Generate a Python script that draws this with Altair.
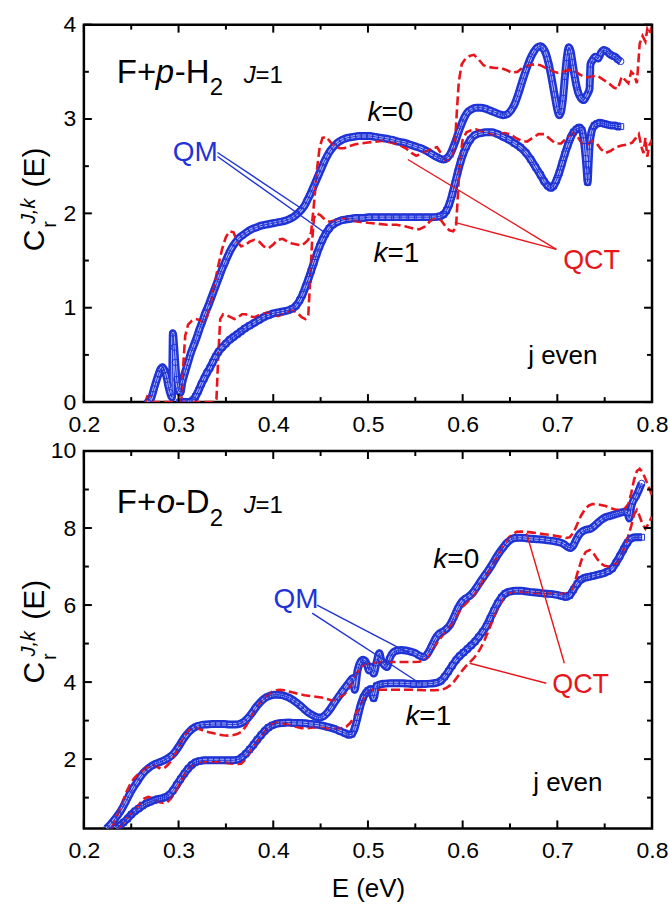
import altair as alt
import pandas as pd

FONT = "Liberation Sans"
BLUE = "#1f33d6"
LIGHT = "#a9b2f2"
RED = "#e8161c"

# ---------------- data (E in eV, C) ----------------
TOP_QM_K0 = [(0.267,0.00),(0.271,0.04),(0.274,0.14),(0.277,0.24),(0.279,0.30),(0.281,0.35),(0.283,0.37),(0.285,0.34),
 (0.287,0.28),(0.289,0.18),(0.291,0.10),(0.293,0.05),(0.294,0.73),(0.2954,0.58),(0.2965,0.42),(0.298,0.24),(0.300,0.12),
 (0.302,0.10),(0.304,0.21),(0.307,0.32),(0.310,0.42),(0.313,0.52),(0.316,0.60),(0.319,0.68),(0.322,0.77),(0.325,0.85),
 (0.328,0.94),(0.331,1.01),(0.334,1.09),(0.337,1.17),(0.340,1.25),(0.343,1.33),(0.346,1.41),(0.349,1.48),(0.352,1.55),
 (0.356,1.63),(0.360,1.69),(0.364,1.74),(0.368,1.77),(0.372,1.80),(0.377,1.83),(0.382,1.85),(0.387,1.87),(0.392,1.88),
 (0.397,1.89),(0.402,1.90),(0.407,1.91),(0.412,1.92),(0.417,1.94),(0.421,1.96),(0.425,1.99),(0.429,2.03),(0.433,2.08),
 (0.436,2.14),(0.439,2.20),(0.442,2.27),(0.445,2.34),(0.448,2.41),(0.451,2.48),(0.454,2.55),(0.457,2.61),(0.460,2.66),
 (0.464,2.71),(0.468,2.75),(0.473,2.78),(0.478,2.80),(0.484,2.81),(0.490,2.82),(0.496,2.82),(0.502,2.82),(0.508,2.81),
 (0.514,2.80),(0.520,2.79),(0.526,2.78),(0.532,2.76),(0.538,2.75),(0.544,2.73),(0.550,2.71),(0.556,2.69),(0.562,2.66),
 (0.567,2.63),(0.572,2.60),(0.576,2.58),(0.580,2.57),(0.584,2.59),(0.587,2.63),(0.590,2.70),(0.593,2.78),(0.596,2.87),
 (0.599,2.95),(0.602,3.02),(0.605,3.07),(0.609,3.10),(0.614,3.12),(0.619,3.12),(0.624,3.11),(0.629,3.09),(0.634,3.07),
 (0.639,3.05),(0.643,3.04),(0.647,3.05),(0.651,3.09),(0.655,3.16),(0.659,3.27),(0.663,3.40),(0.667,3.52),(0.671,3.63),
 (0.675,3.71),(0.679,3.76),(0.682,3.77),(0.685,3.75),(0.688,3.69),(0.691,3.58),(0.694,3.43),(0.697,3.26),(0.700,3.10),
 (0.702,3.04),(0.704,3.08),(0.706,3.22),(0.708,3.45),(0.710,3.65),(0.712,3.76),(0.714,3.72),(0.716,3.60),(0.718,3.47),
 (0.720,3.36),(0.722,3.28),(0.725,3.22),(0.728,3.20),(0.731,3.25),(0.734,3.32),(0.735,3.58),(0.737,3.62),(0.740,3.66),
 (0.743,3.64),(0.746,3.70),(0.749,3.73),(0.752,3.72),(0.755,3.69),(0.758,3.67),(0.761,3.66),(0.764,3.63),(0.767,3.61)]

TOP_QM_K1 = [(0.301,0.00),(0.306,0.00),(0.311,0.00),(0.315,0.02),(0.318,0.06),(0.321,0.12),(0.324,0.19),(0.327,0.25),
 (0.330,0.31),(0.333,0.36),(0.336,0.42),(0.339,0.48),(0.342,0.53),(0.346,0.58),(0.350,0.62),(0.354,0.66),(0.358,0.69),
 (0.362,0.72),(0.366,0.75),(0.370,0.78),(0.375,0.81),(0.380,0.84),(0.385,0.87),(0.390,0.90),(0.395,0.92),(0.400,0.94),
 (0.405,0.95),(0.410,0.96),(0.415,0.97),(0.420,0.99),(0.424,1.02),(0.428,1.08),(0.431,1.14),(0.434,1.22),(0.437,1.30),
 (0.440,1.39),(0.443,1.48),(0.446,1.57),(0.449,1.65),(0.452,1.72),(0.455,1.78),(0.459,1.84),(0.463,1.88),(0.468,1.91),
 (0.474,1.93),(0.480,1.94),(0.487,1.95),(0.494,1.95),(0.501,1.96),(0.508,1.96),(0.515,1.96),(0.522,1.96),(0.530,1.96),
 (0.538,1.96),(0.546,1.96),(0.554,1.96),(0.562,1.96),(0.570,1.96),(0.576,1.97),(0.580,1.99),(0.583,2.03),(0.586,2.10),
 (0.589,2.20),(0.592,2.32),(0.595,2.44),(0.598,2.55),(0.601,2.64),(0.604,2.71),(0.608,2.78),(0.613,2.83),(0.619,2.85),
 (0.625,2.86),(0.631,2.86),(0.637,2.84),(0.643,2.81),(0.649,2.78),(0.655,2.74),(0.661,2.70),(0.667,2.64),(0.672,2.57),
 (0.677,2.49),(0.682,2.41),(0.686,2.34),(0.690,2.29),(0.693,2.27),(0.696,2.29),(0.699,2.35),(0.702,2.43),(0.705,2.53),
 (0.708,2.63),(0.711,2.72),(0.714,2.80),(0.717,2.86),(0.720,2.89),(0.723,2.91),(0.726,2.88),(0.728,2.77),(0.730,2.58),
 (0.731,2.45),(0.732,2.33),(0.733,2.52),(0.734,2.71),(0.736,2.86),(0.739,2.93),(0.742,2.95),(0.745,2.96),(0.749,2.95),
 (0.753,2.94),(0.757,2.93),(0.761,2.93),(0.764,2.92),(0.767,2.92)]

TOP_QCT_K0 = [(0.265,0.00),(0.267,0.06),(0.270,0.05),(0.272,0.00),(0.300,0.00),(0.303,0.02),(0.305,0.40),(0.307,0.70),
 (0.310,0.82),(0.314,0.86),(0.318,0.88),(0.322,0.87),(0.326,0.85),(0.330,0.90),(0.334,1.05),(0.338,1.25),(0.342,1.45),
 (0.346,1.62),(0.350,1.75),(0.354,1.81),(0.358,1.80),(0.362,1.70),(0.366,1.65),(0.370,1.66),(0.375,1.70),(0.380,1.72),
 (0.385,1.70),(0.390,1.65),(0.395,1.63),(0.400,1.67),(0.405,1.72),(0.410,1.73),(0.415,1.70),(0.420,1.68),(0.425,1.67),
 (0.430,1.66),(0.434,1.69),(0.437,1.72),(0.440,1.80),(0.443,2.10),(0.446,2.45),(0.449,2.70),(0.452,2.80),(0.456,2.81),
 (0.460,2.76),(0.465,2.71),(0.470,2.69),(0.475,2.69),(0.480,2.71),(0.486,2.73),(0.492,2.74),(0.500,2.75),(0.508,2.76),
 (0.516,2.77),(0.524,2.75),(0.532,2.73),(0.540,2.69),(0.546,2.64),(0.551,2.61),(0.556,2.63),(0.562,2.66),(0.568,2.69),
 (0.573,2.70),(0.577,2.64),(0.581,2.57),(0.585,2.56),(0.589,2.60),(0.592,2.75),(0.594,3.10),(0.596,3.40),(0.599,3.58),
 (0.603,3.64),(0.608,3.67),(0.612,3.68),(0.617,3.63),(0.622,3.57),(0.628,3.55),(0.634,3.54),(0.640,3.54),(0.646,3.52),
 (0.652,3.49),(0.658,3.50),(0.664,3.55),(0.670,3.57),(0.676,3.58),(0.682,3.57),(0.688,3.54),(0.694,3.51),(0.700,3.49),
 (0.706,3.50),(0.712,3.52),(0.718,3.51),(0.724,3.47),(0.730,3.44),(0.736,3.45),(0.742,3.46),(0.748,3.42),(0.754,3.38),
 (0.760,3.33),(0.764,3.32),(0.768,3.45),(0.771,3.42),(0.775,3.38),(0.778,3.50),(0.781,3.47),(0.784,3.38),(0.787,3.80),
 (0.790,3.88),(0.793,3.82),(0.795,3.95),(0.797,3.90),(0.800,3.98)]

TOP_QCT_K1 = [(0.300,0.00),(0.320,0.00),(0.338,0.00),(0.340,0.03),(0.342,0.50),(0.344,0.88),(0.347,0.93),(0.351,0.92),
 (0.355,0.90),(0.359,0.88),(0.363,0.90),(0.367,0.93),(0.371,0.93),(0.375,0.91),(0.380,0.90),(0.385,0.92),(0.390,0.94),
 (0.395,0.95),(0.400,0.93),(0.405,0.91),(0.410,0.93),(0.415,0.96),(0.420,0.97),(0.425,0.95),(0.430,0.90),(0.434,0.88),
 (0.437,0.92),(0.439,1.30),(0.441,1.70),(0.443,1.95),(0.446,2.00),(0.450,1.98),(0.455,1.93),(0.460,1.91),(0.466,1.93),
 (0.472,1.95),(0.478,1.94),(0.485,1.92),(0.492,1.91),(0.500,1.90),(0.510,1.89),(0.520,1.88),(0.530,1.88),(0.540,1.86),
 (0.548,1.84),(0.554,1.83),(0.560,1.86),(0.566,1.92),(0.572,1.95),(0.577,1.93),(0.582,1.86),(0.586,1.82),(0.590,1.81),
 (0.593,1.85),(0.595,2.20),(0.597,2.55),(0.600,2.78),(0.604,2.86),(0.609,2.88),(0.614,2.89),(0.620,2.87),(0.626,2.85),
 (0.632,2.83),(0.638,2.84),(0.644,2.85),(0.650,2.84),(0.656,2.80),(0.662,2.77),(0.668,2.76),(0.674,2.80),(0.680,2.84),
 (0.686,2.84),(0.692,2.79),(0.698,2.74),(0.704,2.74),(0.710,2.80),(0.716,2.85),(0.721,2.82),(0.726,2.74),(0.731,2.72),
 (0.736,2.77),(0.741,2.75),(0.746,2.68),(0.751,2.64),(0.756,2.66),(0.762,2.70),(0.768,2.72),(0.774,2.73),(0.779,2.75),
 (0.783,2.80),(0.786,2.84),(0.789,2.70),(0.791,2.64),(0.793,2.80),(0.795,2.60),(0.797,2.72),(0.800,2.78)]

BOT_QM_K0 = [(0.224,0.20),(0.228,0.30),(0.232,0.42),(0.236,0.55),(0.240,0.70),(0.244,0.88),(0.248,1.08),(0.252,1.25),
 (0.256,1.40),(0.260,1.55),(0.264,1.67),(0.268,1.76),(0.272,1.83),(0.276,1.88),(0.280,1.92),(0.284,1.96),(0.288,2.01),
 (0.292,2.08),(0.296,2.18),(0.300,2.32),(0.304,2.48),(0.308,2.62),(0.312,2.73),(0.316,2.81),(0.320,2.86),(0.325,2.89),
 (0.330,2.90),(0.336,2.91),(0.342,2.91),(0.348,2.91),(0.354,2.90),(0.360,2.90),(0.365,2.92),(0.369,2.97),(0.373,3.06),
 (0.377,3.18),(0.381,3.32),(0.385,3.44),(0.389,3.54),(0.393,3.61),(0.397,3.65),(0.401,3.67),(0.405,3.67),(0.409,3.66),
 (0.413,3.63),(0.417,3.59),(0.421,3.53),(0.425,3.46),(0.429,3.38),(0.433,3.29),(0.437,3.21),(0.441,3.15),(0.445,3.10),
 (0.449,3.08),(0.453,3.11),(0.457,3.20),(0.461,3.33),(0.465,3.48),(0.469,3.62),(0.473,3.76),(0.477,3.89),(0.481,4.02),
 (0.484,4.10),(0.486,3.80),(0.489,4.30),(0.492,4.52),(0.495,4.58),(0.497,4.55),(0.499,4.45),(0.501,4.30),(0.503,4.40),
 (0.506,4.22),(0.509,4.50),(0.512,4.75),(0.514,4.57),(0.517,4.45),(0.520,4.39),(0.523,4.62),(0.527,4.78),(0.531,4.82),
 (0.535,4.83),(0.540,4.82),(0.545,4.79),(0.550,4.75),(0.555,4.68),(0.559,4.65),(0.563,4.74),(0.567,4.92),(0.571,5.12),
 (0.575,5.25),(0.579,5.31),(0.583,5.38),(0.587,5.50),(0.591,5.70),(0.595,5.92),(0.599,6.08),(0.603,6.17),(0.607,6.23),
 (0.611,6.33),(0.615,6.47),(0.619,6.62),(0.623,6.76),(0.627,6.90),(0.631,7.05),(0.635,7.22),(0.639,7.37),(0.643,7.50),
 (0.647,7.62),(0.651,7.70),(0.655,7.74),(0.660,7.75),(0.666,7.74),(0.672,7.72),(0.678,7.71),(0.684,7.70),(0.690,7.68),
 (0.696,7.66),(0.702,7.63),(0.707,7.58),(0.711,7.51),(0.714,7.48),(0.717,7.55),(0.720,7.70),(0.723,7.83),(0.727,7.92),
 (0.731,7.96),(0.735,7.98),(0.739,8.05),(0.743,8.14),(0.747,8.22),(0.751,8.28),(0.755,8.31),(0.759,8.34),(0.763,8.37),
 (0.767,8.40),(0.771,8.42),(0.774,8.40),(0.776,8.25),(0.778,8.55),(0.780,8.70),(0.783,8.82),(0.786,8.98),(0.789,9.16)]

BOT_QM_K1 = [(0.234,0.20),(0.238,0.28),(0.242,0.36),(0.246,0.45),(0.250,0.56),(0.254,0.65),(0.258,0.72),(0.262,0.79),
 (0.266,0.85),(0.270,0.89),(0.274,0.93),(0.278,0.96),(0.282,0.98),(0.286,1.01),(0.290,1.07),(0.294,1.18),(0.298,1.33),
 (0.302,1.48),(0.306,1.62),(0.310,1.75),(0.314,1.85),(0.318,1.92),(0.322,1.95),(0.328,1.97),(0.334,1.97),(0.340,1.97),
 (0.346,1.97),(0.352,1.97),(0.358,1.97),(0.363,1.99),(0.367,2.05),(0.371,2.14),(0.375,2.25),(0.379,2.37),(0.383,2.50),
 (0.387,2.62),(0.391,2.73),(0.395,2.82),(0.399,2.88),(0.404,2.92),(0.410,2.94),(0.416,2.95),(0.422,2.94),(0.428,2.94),
 (0.434,2.93),(0.440,2.91),(0.446,2.90),(0.452,2.87),(0.458,2.83),(0.464,2.79),(0.470,2.73),(0.476,2.67),(0.480,2.63),
 (0.483,2.65),(0.486,2.80),(0.489,3.08),(0.492,3.38),(0.495,3.60),(0.498,3.72),(0.500,3.78),(0.503,3.82),(0.506,3.58),
 (0.509,3.90),(0.513,3.94),(0.518,3.96),(0.524,3.97),(0.530,3.97),(0.536,3.97),(0.542,3.96),(0.548,3.95),(0.554,3.95),
 (0.560,3.95),(0.566,3.96),(0.572,3.98),(0.577,4.03),(0.581,4.14),(0.585,4.28),(0.589,4.43),(0.593,4.57),(0.597,4.68),
 (0.601,4.77),(0.605,4.86),(0.609,4.95),(0.613,5.05),(0.617,5.17),(0.621,5.30),(0.625,5.45),(0.629,5.65),(0.633,5.86),
 (0.637,6.05),(0.641,6.20),(0.645,6.30),(0.650,6.35),(0.656,6.37),(0.662,6.37),(0.668,6.35),(0.674,6.33),(0.680,6.32),
 (0.686,6.30),(0.692,6.29),(0.698,6.27),(0.704,6.24),(0.709,6.21),(0.713,6.25),(0.717,6.40),(0.721,6.55),(0.725,6.66),
 (0.729,6.71),(0.733,6.73),(0.738,6.76),(0.743,6.79),(0.748,6.82),(0.753,6.87),(0.758,6.95),(0.762,7.10),(0.766,7.27),
 (0.770,7.45),(0.774,7.62),(0.778,7.73),(0.782,7.76),(0.786,7.76),(0.789,7.76)]

BOT_QCT_K0 = [(0.229,0.20),(0.233,0.40),(0.237,0.65),(0.241,0.90),(0.245,1.15),(0.249,1.35),(0.253,1.50),(0.257,1.60),
 (0.261,1.68),(0.265,1.76),(0.269,1.82),(0.273,1.84),(0.277,1.80),(0.281,1.75),(0.285,1.77),(0.289,1.86),(0.293,1.98),
 (0.297,2.15),(0.301,2.35),(0.305,2.55),(0.309,2.70),(0.313,2.80),(0.317,2.82),(0.322,2.78),(0.327,2.73),(0.332,2.70),
 (0.337,2.67),(0.342,2.64),(0.347,2.62),(0.352,2.61),(0.357,2.62),(0.362,2.65),(0.367,2.72),(0.371,2.85),(0.375,3.02),
 (0.379,3.20),(0.383,3.36),(0.387,3.50),(0.391,3.60),(0.395,3.68),(0.399,3.75),(0.403,3.79),(0.407,3.80),(0.411,3.79),
 (0.416,3.76),(0.421,3.73),(0.427,3.69),(0.433,3.66),(0.439,3.64),(0.445,3.62),(0.451,3.60),(0.457,3.56),(0.462,3.52),
 (0.466,3.55),(0.470,3.60),(0.474,3.66),(0.478,3.76),(0.482,3.92),(0.486,4.12),(0.490,4.30),(0.494,4.42),(0.498,4.47),
 (0.502,4.48),(0.507,4.50),(0.514,4.52),(0.522,4.52),(0.530,4.52),(0.538,4.52),(0.546,4.52),(0.554,4.53),(0.560,4.58),
 (0.565,4.70),(0.569,4.86),(0.573,5.02),(0.577,5.15),(0.581,5.28),(0.585,5.40),(0.589,5.52),(0.593,5.68),(0.597,5.85),
 (0.601,5.98),(0.605,6.08),(0.609,6.17),(0.613,6.28),(0.617,6.44),(0.621,6.60),(0.625,6.76),(0.629,6.92),(0.633,7.10),
 (0.637,7.28),(0.641,7.45),(0.645,7.62),(0.649,7.76),(0.653,7.85),(0.657,7.90),(0.662,7.91),(0.668,7.90),(0.674,7.88),
 (0.680,7.86),(0.686,7.84),(0.692,7.82),(0.698,7.80),(0.704,7.77),(0.709,7.74),(0.713,7.76),(0.717,7.88),(0.721,8.10),
 (0.725,8.32),(0.729,8.48),(0.733,8.58),(0.737,8.62),(0.741,8.62),(0.746,8.60),(0.751,8.57),(0.756,8.52),(0.761,8.48),
 (0.766,8.47),(0.771,8.50),(0.775,8.62),(0.778,8.90),(0.781,9.25),(0.784,9.48),(0.787,9.54),(0.790,9.45),(0.793,9.28),
 (0.796,9.10),(0.800,8.85)]

BOT_QCT_K1 = [(0.236,0.20),(0.240,0.30),(0.244,0.42),(0.248,0.52),(0.252,0.62),(0.256,0.74),(0.260,0.88),(0.264,0.98),
 (0.268,1.02),(0.272,0.99),(0.276,0.92),(0.280,0.88),(0.284,0.86),(0.288,0.88),(0.292,0.98),(0.296,1.12),(0.300,1.30),
 (0.304,1.50),(0.308,1.68),(0.312,1.80),(0.316,1.87),(0.321,1.91),(0.327,1.92),(0.334,1.92),(0.341,1.92),(0.348,1.91),
 (0.355,1.89),(0.361,1.87),(0.366,1.88),(0.370,1.97),(0.374,2.12),(0.378,2.28),(0.382,2.42),(0.386,2.55),(0.390,2.68),
 (0.394,2.80),(0.398,2.90),(0.402,2.95),(0.407,2.95),(0.412,2.92),(0.418,2.88),(0.424,2.84),(0.430,2.80),(0.436,2.80),
 (0.442,2.82),(0.448,2.82),(0.454,2.80),(0.460,2.79),(0.466,2.79),(0.472,2.80),(0.477,2.84),(0.481,2.93),(0.485,3.07),
 (0.489,3.25),(0.493,3.45),(0.497,3.65),(0.501,3.76),(0.505,3.80),(0.512,3.80),(0.520,3.80),(0.530,3.80),(0.540,3.80),
 (0.550,3.80),(0.560,3.79),(0.570,3.79),(0.578,3.80),(0.583,3.85),(0.587,3.92),(0.591,4.02),(0.595,4.15),(0.599,4.28),
 (0.603,4.40),(0.607,4.50),(0.611,4.60),(0.615,4.72),(0.619,4.88),(0.623,5.08),(0.627,5.32),(0.631,5.56),(0.635,5.80),
 (0.639,6.00),(0.643,6.15),(0.647,6.26),(0.651,6.33),(0.656,6.35),(0.662,6.35),(0.668,6.34),(0.675,6.32),(0.682,6.31),
 (0.689,6.30),(0.696,6.30),(0.703,6.30),(0.709,6.30),(0.714,6.34),(0.718,6.55),(0.722,6.90),(0.726,7.20),(0.730,7.38),
 (0.734,7.43),(0.738,7.35),(0.742,7.20),(0.746,7.08),(0.750,7.02),(0.754,7.00),(0.758,7.02),(0.762,7.08),(0.766,7.22),
 (0.770,7.45),(0.774,7.72),(0.778,8.05),(0.781,8.35),(0.784,8.47),(0.787,8.30),(0.790,8.10),(0.793,7.98),(0.796,8.10),
 (0.800,8.30)]

# annotation pointer lines: (E1, C1, E2, C2)
TOP_QM_LINES = [(0.3411, 2.645, 0.4305, 2.046), (0.3411, 2.603, 0.4568, 1.778)]
TOP_QCT_LINES = [(0.699, 1.619, 0.5421, 2.571), (0.699, 1.619, 0.5916, 1.905)]
BOT_QM_LINES = [(0.4463, 6.00, 0.5474, 4.70), (0.4411, 5.79, 0.5547, 3.97)]
BOT_QCT_LINES = [(0.6884, 3.97, 0.6074, 4.49), (0.7074, 4.49, 0.6674, 7.87)]

# ticks / labels
X_LABELS = [0.2, 0.3, 0.4, 0.5, 0.6, 0.7, 0.8]
X_MINOR = [0.25, 0.35, 0.45, 0.55, 0.65, 0.75]
TOP_Y_MAJOR = [0, 1, 2, 3, 4]
TOP_Y_MINOR = [0.5, 1.5, 2.5, 3.5]
BOT_Y_MAJOR = [2, 4, 6, 8, 10]
BOT_Y_MINOR = [1, 3, 5, 7, 9]
X_DOMAIN = [0.2, 0.8]
TOP_Y_DOMAIN = [0, 4]
BOT_Y_DOMAIN = [0.2, 10]

W, H = 569, 378
ONE = pd.DataFrame({"a": [0]})


def pts(pairs):
    return pd.DataFrame(pairs, columns=["E", "C"])


def txt(s, x, y, size=28, color="black", italic=False, angle=0, align="left"):
    return alt.Chart(ONE).mark_text(
        text=s, font=FONT, fontSize=size, fontStyle="italic" if italic else "normal",
        color=color, align=align, baseline="alphabetic", angle=angle
    ).encode(x=alt.value(x), y=alt.value(y))


def panel(qm0, qm1, qct0, qct1, ydom, ymaj, ymin, qm_lines, qct_lines, texts, xtitle):
    xs = alt.Scale(domain=X_DOMAIN, nice=False, zero=False)
    ys = alt.Scale(domain=ydom, nice=False, zero=False)
    xaxis = alt.Axis(values=X_LABELS, format=".1f", ticks=False, domain=False, grid=False,
                     labelPadding=11, labelFlush=False, labelOverlap=False, titlePadding=13,
                     labelFont=FONT, labelFontSize=23, labelColor="black",
                     titleFont=FONT, titleFontSize=26, titleFontWeight="normal", titleColor="black")
    yaxis = alt.Axis(values=ymaj, format="d", ticks=False, domain=False, grid=False,
                     labelPadding=8, labelFlush=False, labelOverlap=False,
                     labelFont=FONT, labelFontSize=23, labelColor="black")
    X = alt.X("E:Q", scale=xs, axis=xaxis, title=xtitle)
    Y = alt.Y("C:Q", scale=ys, axis=yaxis, title=None)

    layers = []
    # QM bands
    for d in (qm0, qm1):
        base = alt.Chart(pts(d)).encode(x=X, y=Y)
        layers.append(base.mark_line(color=BLUE, strokeWidth=8, interpolate="monotone", clip=True))
        layers.append(base.mark_line(color=LIGHT, strokeWidth=3, interpolate="monotone", clip=True))
    # QCT dashed
    for d in (qct0, qct1):
        layers.append(alt.Chart(pts(d)).mark_line(color=RED, strokeWidth=2.6, strokeDash=[9, 4], clip=True)
                      .encode(x=X, y=Y))
    # QM markers
    for d, shape, size in ((qm0, "circle", 40), (qm1, "square", 34)):
        base = alt.Chart(pts(d)).encode(x=X, y=Y)
        layers.append(base.mark_line(color=BLUE, strokeWidth=1, clip=True))
        layers.append(base.mark_point(shape=shape, filled=False, size=size, color=BLUE,
                                      strokeWidth=1, opacity=1, clip=True))
    # pointer lines
    for lines, col in ((qm_lines, BLUE), (qct_lines, RED)):
        ld = pd.DataFrame(lines, columns=["E1", "C1", "E2", "C2"])
        layers.append(alt.Chart(ld).mark_rule(color=col, strokeWidth=1.4).encode(
            x=alt.X("E1:Q", scale=xs, axis=xaxis, title=xtitle),
            y=alt.Y("C1:Q", scale=ys, axis=yaxis, title=None),
            x2="E2:Q", y2="C2:Q"))
    # inward ticks on all four sides
    for vals, ln in ((X_LABELS, 8), (X_MINOR, 5)):
        d = pd.DataFrame({"E": vals})
        layers.append(alt.Chart(d).mark_rule(color="black", strokeWidth=2).encode(
            x=X, y=alt.value(H), y2=alt.value(H - ln)))
        layers.append(alt.Chart(d).mark_rule(color="black", strokeWidth=2).encode(
            x=X, y=alt.value(0), y2=alt.value(ln)))
    for vals, ln in ((ymaj, 8), (ymin, 5)):
        d = pd.DataFrame({"C": vals})
        layers.append(alt.Chart(d).mark_rule(color="black", strokeWidth=2).encode(
            y=Y, x=alt.value(0), x2=alt.value(ln)))
        layers.append(alt.Chart(d).mark_rule(color="black", strokeWidth=2).encode(
            y=Y, x=alt.value(W), x2=alt.value(W - ln)))
    layers.extend(texts)
    return alt.layer(*layers).properties(width=W, height=H)


def ytitle(dy):
    return [
        txt("C", -40, 216 + dy, size=30, angle=270, align="center"),
        txt("r", -28, 200 + dy, size=20, angle=270, align="center"),
        txt("J,k", -49, 187 + dy, size=20, italic=True, angle=270, align="center"),
        txt("(E)", -40, 143 + dy, size=30, angle=270, align="center"),
    ]


top_texts = [
    txt("F+", 33, 58, 33), txt("p", 72, 58, 33, italic=True), txt("-H", 91, 58, 33),
    txt("2", 126, 70, 24), txt("J", 160, 58, 24, italic=True), txt("=1", 172, 58, 24),
    txt("k", 284, 97, 28, italic=True), txt("=0", 298, 97, 28),
    txt("k", 290, 238, 28, italic=True), txt("=1", 304, 238, 28),
    txt("QM", 89, 137, 28, color=BLUE), txt("QCT", 480, 245, 27, color=RED),
    txt("j even", 445, 340, 26),
] + ytitle(0)

bot_texts = [
    txt("F+", 33, 62, 33), txt("o", 73, 62, 33, italic=True), txt("-D", 91, 62, 33),
    txt("2", 126, 75, 24), txt("J", 160, 62, 24, italic=True), txt("=1", 172, 62, 24),
    txt("k", 350, 117, 28, italic=True), txt("=0", 364, 117, 28),
    txt("k", 322, 274, 28, italic=True), txt("=1", 336, 274, 28),
    txt("QM", 190, 157, 28, color=BLUE), txt("QCT", 469, 242, 27, color=RED),
    txt("j even", 450, 341, 26),
] + ytitle(6)

top = panel(TOP_QM_K0, TOP_QM_K1, TOP_QCT_K0, TOP_QCT_K1, TOP_Y_DOMAIN, TOP_Y_MAJOR, TOP_Y_MINOR,
            TOP_QM_LINES, TOP_QCT_LINES, top_texts, None)
bottom = panel(BOT_QM_K0, BOT_QM_K1, BOT_QCT_K0, BOT_QCT_K1, BOT_Y_DOMAIN, BOT_Y_MAJOR, BOT_Y_MINOR,
               BOT_QM_LINES, BOT_QCT_LINES, bot_texts, "E (eV)")

chart = alt.vconcat(top, bottom, spacing=0).properties(
    padding={"left": 17, "top": 11, "right": 0, "bottom": 0},
    background="white"
).configure_view(stroke="black", strokeWidth=2.5)

chart.save("out.html", embed_options={"renderer": "svg", "actions": False})
